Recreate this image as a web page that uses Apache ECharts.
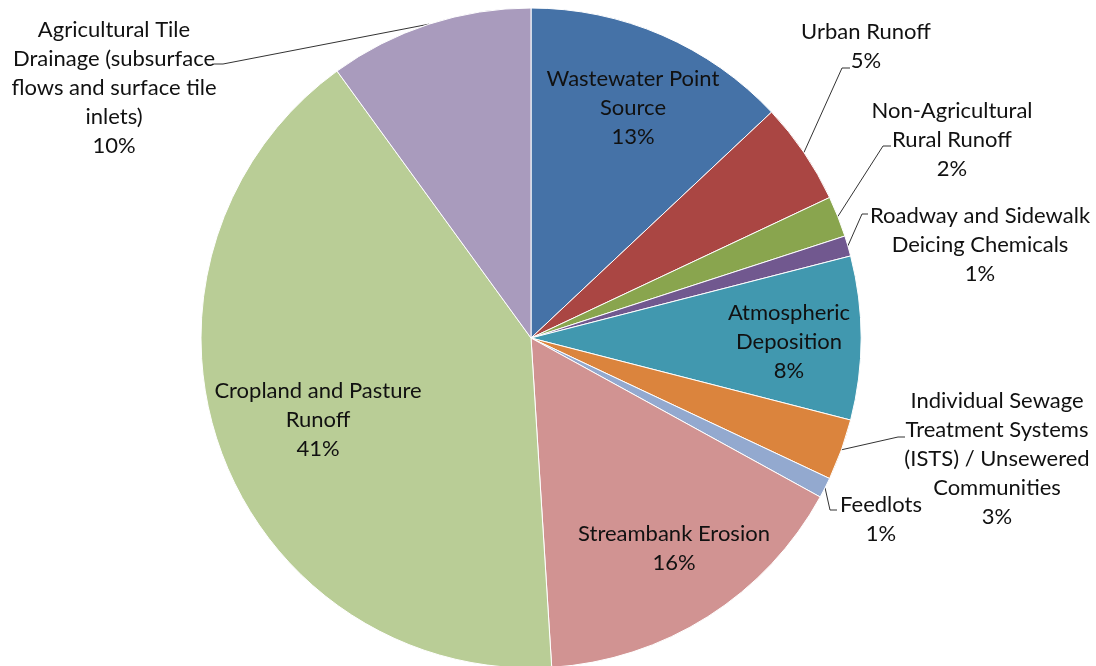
<!DOCTYPE html>
<html>
<head>
<meta charset="utf-8">
<title>Nutrient Sources</title>
<script src="https://cdn.jsdelivr.net/npm/echarts@6/dist/echarts.min.js"></script>
<style>
  html, body { margin: 0; padding: 0; background: #fff; }
  #chart { width: 1096px; height: 666px; }
</style>
</head>
<body>
<div id="chart"></div>
<script>
// Source categories, clockwise from 12 o'clock
var categories = [
  'Wastewater Point Source',
  'Urban Runoff',
  'Non-Agricultural Rural Runoff',
  'Roadway and Sidewalk Deicing Chemicals',
  'Atmospheric Deposition',
  'Individual Sewage Treatment Systems (ISTS) / Unsewered Communities',
  'Feedlots',
  'Streambank Erosion',
  'Cropland and Pasture Runoff',
  'Agricultural Tile Drainage (subsurface flows and surface tile inlets)'
];

// Share of total load, percent
var shares = [13, 5, 2, 1, 8, 3, 1, 16, 41, 10];

// Wrapped label text for each category
var wrappedNames = [
  'Wastewater Point\nSource',
  'Urban Runoff',
  'Non-Agricultural\nRural Runoff',
  'Roadway and Sidewalk\nDeicing Chemicals',
  'Atmospheric\nDeposition',
  'Individual Sewage\nTreatment Systems\n(ISTS) / Unsewered\nCommunities',
  'Feedlots',
  'Streambank Erosion',
  'Cropland and Pasture\nRunoff',
  'Agricultural Tile\nDrainage (subsurface\nflows and surface tile\ninlets)'
];

var colors = ['#4572A7', '#AA4643', '#89A54E', '#71588F', '#4198AF',
              '#DB843D', '#93A9CF', '#D19392', '#B9CD96', '#A99BBD'];

// Which labels sit outside the pie with a leader line
var outside = [false, true, true, true, false, true, true, false, false, true];

// Label centres (px)
var labelPos = [
  [633, 108], [866, 46], [952, 140], [980, 245], [789, 342],
  [997, 459], [881, 519], [674, 548], [318, 420], [114, 88]
];

// Leader line elbow and end point (px) for outside labels
var guides = {
  1: [[842, 68], [850, 68]],
  2: [[883, 146], [891, 146]],
  3: [[862, 214], [868, 214]],
  5: [[898, 437], [905, 437]],
  6: [[830, 510], [837, 510]],
  9: [[223, 64], [214, 64]]
};

var data = categories.map(function (name, i) {
  return {
    name: name,
    value: shares[i],
    itemStyle: { color: colors[i] },
    labelLine: { show: outside[i] }
  };
});

var chart = echarts.init(document.getElementById('chart'), null, { renderer: 'canvas' });

chart.setOption({
  animation: false,
  backgroundColor: '#ffffff',
  series: [{
    type: 'pie',
    center: [531, 338],
    radius: 330,
    startAngle: 90,
    clockwise: true,
    avoidLabelOverlap: false,
    data: data,
    itemStyle: { borderColor: '#ffffff', borderWidth: 1 },
    label: {
      show: true,
      position: 'outside',
      formatter: function (p) {
        return wrappedNames[p.dataIndex] + '\n' + p.value + '%';
      },
      fontFamily: 'Lato',
      fontSize: 22,
      lineHeight: 29,
      color: '#111111',
      align: 'center'
    },
    labelLine: {
      show: true,
      length: 20,
      length2: 8,
      lineStyle: { color: '#333333', width: 1 }
    },
    labelLayout: function (params) {
      var i = params.dataIndex;
      var p = labelPos[i];
      var out = { x: p[0], y: p[1], align: 'center', verticalAlign: 'middle', hideOverlap: false };
      var g = guides[i];
      if (g && params.labelLinePoints) {
        out.labelLinePoints = [params.labelLinePoints[0], g[0], g[1]];
      }
      return out;
    },
    emphasis: { disabled: true }
  }]
});
</script>
</body>
</html>
